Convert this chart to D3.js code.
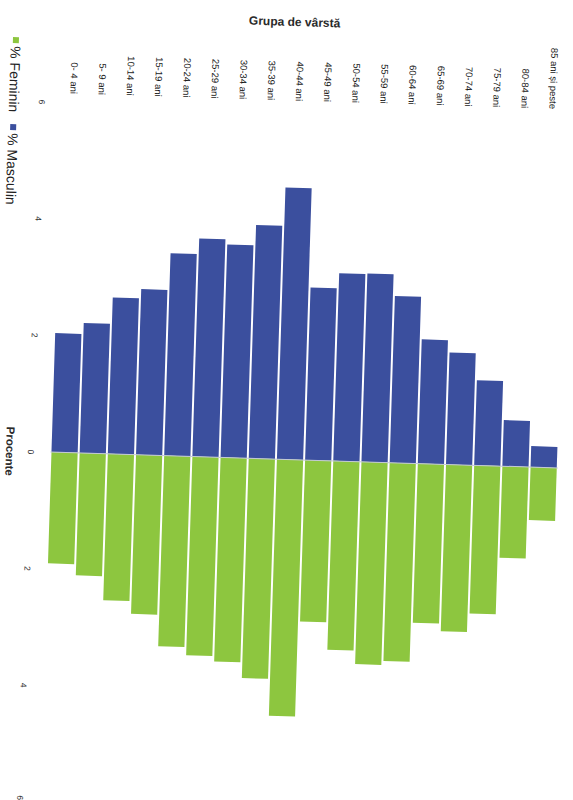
<!DOCTYPE html>
<html>
<head>
<meta charset="utf-8">
<script src="https://cdn.jsdelivr.net/npm/d3@7"></script>
<style>
	body{ margin:0; background:#fff; }
	svg{ display:block; font-family:"Liberation Sans", Arial, sans-serif; }
</style>
</head>
<body>
<svg id="svg" width="573" height="800"></svg>
<script>

	// age groups, youngest first
	var ages = ["0- 4 ani","5- 9 ani","10-14 ani","15-19 ani","20-24 ani","25-29 ani","30-34 ani","35-39 ani",
		"40-44 ani","45-49 ani","50-54 ani","55-59 ani","60-64 ani","65-69 ani","70-74 ani","75-79 ani",
		"80-84 ani","85 ani și peste"];

	// % of population
	var masculin = [2.04,2.23,2.68,2.84,3.47,3.74,3.65,4.00,4.66,2.96,3.22,3.23,2.86,2.13,1.92,1.46,0.79,0.36];
	var feminin  = [1.91,2.10,2.51,2.73,3.27,3.41,3.50,3.77,4.40,2.77,3.24,3.47,3.40,2.73,2.86,2.54,1.57,0.91];

	var tickVals = [-6,-4,-2,0,2,4,6];

	var blue = "#3b4f9e", green = "#8dc63f";

	var svg = d3.select("#svg");

	// the whole page is photographed a bit crooked
	var g = svg.append("g").attr("transform","rotate(1.8,67,452)");

	var x = d3.scaleBand().domain(ages).range([50.5,558]).paddingInner(0.07).paddingOuter(0.035);
	// masculin drawn as negative values (upwards), feminin positive (downwards)
	var y = d3.scaleLinear().domain([-6,6]).range([102.5,802.5]);

	//bars
	g.append("g").selectAll("rect").data(masculin).enter().append("rect")
		.attr("x", function(d,i){ return x(ages[i]); })
		.attr("y", function(d){ return y(-d); })
		.attr("width", x.bandwidth())
		.attr("height", function(d){ return y(0)-y(-d); })
		.style("fill", blue);

	g.append("g").selectAll("rect").data(feminin).enter().append("rect")
		.attr("x", function(d,i){ return x(ages[i]); })
		.attr("y", y(0))
		.attr("width", x.bandwidth())
		.attr("height", function(d){ return y(d)-y(0); })
		.style("fill", green);

	g.append("line")
		.attr("x1", x.range()[0]).attr("x2", x.range()[1])
		.attr("y1", y(0)).attr("y2", y(0))
		.style("stroke","#c3c9d6").style("stroke-width",1);

	//value axis
	var yAxis = g.append("g").attr("transform","translate(31,0)")
		.call(d3.axisLeft(y).tickValues(tickVals).tickSize(0).tickFormat(function(d){ return Math.abs(d); }));
	yAxis.select(".domain").remove();
	yAxis.selectAll(".tick text")
		.attr("x",0).attr("dy",null)
		.attr("y", function(d){ return d==6 ? -4 : 0; }) // keep the last label on the page
		.attr("text-anchor","middle").attr("dominant-baseline","central")
		.attr("transform","rotate(90)")
		.style("font-size","8.5px").style("font-family","Liberation Sans, Arial, sans-serif").style("fill","#333");
	yAxis.selectAll(".tick text").attr("x", function(d){ return d==6 ? -4 : 0; }).attr("y",0);

	//age axis
	var xAxis = g.append("g").attr("transform","translate(-2,94)")
		.call(d3.axisTop(x).tickSize(0));
	xAxis.select(".domain").remove();
	xAxis.selectAll(".tick text")
		.attr("x",0).attr("y",0).attr("dy",null)
		.attr("text-anchor","end").attr("dominant-baseline","central")
		.attr("transform","rotate(90)")
		.style("font-size","9.5px").style("font-family","Liberation Sans, Arial, sans-serif").style("fill","#1a1a1a");

	//titles
	g.append("text").attr("x",281).attr("y",19).attr("text-anchor","middle")
		.style("font-size","12px").style("font-weight","bold").style("fill","#2a2a2a")
		.text("Grupa de vârstă");

	g.append("text").attr("transform","translate(10,453) rotate(90)")
		.attr("text-anchor","middle").attr("dominant-baseline","central")
		.style("font-size","11.5px").style("font-weight","bold").style("fill","#2a2a2a")
		.text("Procente");

	//legend
	var legend = [{label:"% Feminin", color:green, y:42}, {label:"% Masculin", color:blue, y:129}];
	var lg = g.selectAll(".legend").data(legend).enter().append("g").attr("class","legend")
		.attr("transform", function(d){ return "translate(3,"+d.y+")"; });
	lg.append("rect").attr("x",-3).attr("y",-3).attr("width",6).attr("height",6)
		.style("fill", function(d){ return d.color; });
	lg.append("text").attr("transform","translate(0,6) rotate(90)")
		.attr("dominant-baseline","central")
		.style("font-size","14px").style("fill","#222")
		.text(function(d){ return d.label; });

</script>
</body>
</html>
